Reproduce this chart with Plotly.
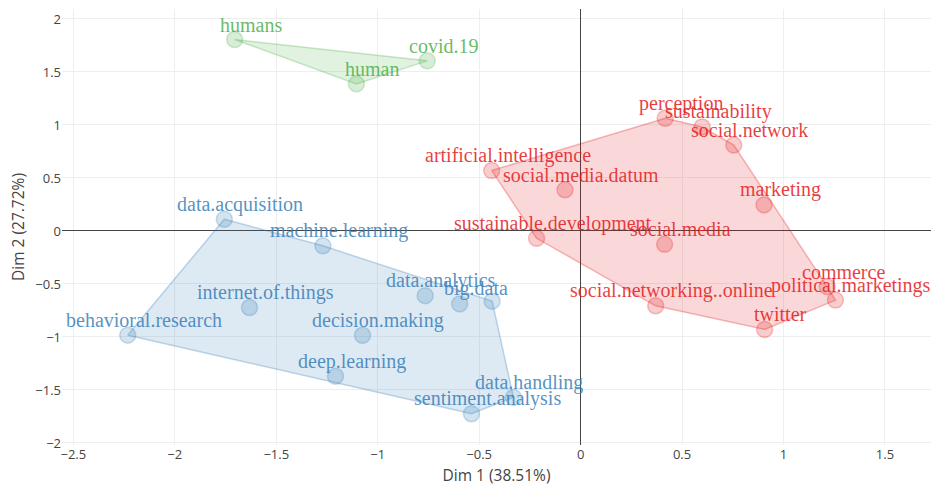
import plotly.graph_objects as go

# ---- data ----
green_labels = ["humans", "covid.19", "human"]
green_x = [-1.705, -0.756, -1.105]
green_y = [1.806, 1.605, 1.388]

red_labels = ["perception", "sustainability", "social.network", "artificial.intelligence",
              "social.media.datum", "marketing", "sustainable.development", "social.media",
              "social.networking..online", "twitter", "commerce", "political.marketings"]
red_x = [0.417, 0.599, 0.755, -0.438, -0.077, 0.904, -0.217, 0.414, 0.370, 0.907, 1.215, 1.256]
red_y = [1.063, 0.981, 0.810, 0.570, 0.388, 0.246, -0.069, -0.126, -0.706, -0.929, -0.525, -0.652]

blue_labels = ["data.acquisition", "machine.learning", "internet.of.things", "behavioral.research",
               "data.analytics", "big.data", "", "decision.making", "deep.learning",
               "data.handling", "sentiment.analysis"]
blue_x = [-1.756, -1.270, -1.632, -2.232, -0.766, -0.596, -0.436, -1.075, -1.208, -0.331, -0.538]
blue_y = [0.111, -0.140, -0.722, -0.983, -0.610, -0.688, -0.662, -0.984, -1.370, -1.570, -1.724]

x_title = "Dim 1 (38.51%)"
y_title = "Dim 2 (27.72%)"

clusters = [
    (green_labels, green_x, green_y, (77, 175, 74)),
    (red_labels, red_x, red_y, (228, 26, 28)),
    (blue_labels, blue_x, blue_y, (55, 126, 184)),
]


def convex_hull(pts):
    pts = sorted(set(pts))
    if len(pts) <= 2:
        return pts

    def cross(o, a, b):
        return (a[0] - o[0]) * (b[1] - o[1]) - (a[1] - o[1]) * (b[0] - o[0])

    lower = []
    for p in pts:
        while len(lower) >= 2 and cross(lower[-2], lower[-1], p) <= 0:
            lower.pop()
        lower.append(p)
    upper = []
    for p in reversed(pts):
        while len(upper) >= 2 and cross(upper[-2], upper[-1], p) <= 0:
            upper.pop()
        upper.append(p)
    return lower[:-1] + upper[:-1]


fig = go.Figure()
annotations = []
for labels, xs, ys, (r, g, b) in clusters:
    hull = convex_hull(list(zip(xs, ys)))
    hx = [p[0] for p in hull] + [hull[0][0]]
    hy = [p[1] for p in hull] + [hull[0][1]]
    fig.add_trace(go.Scatter(
        x=hx, y=hy, mode="lines", fill="toself",
        fillcolor=f"rgba({r},{g},{b},0.17)",
        line=dict(color=f"rgba({r},{g},{b},0.3)", width=1.5),
        hoverinfo="skip", showlegend=False))
    fig.add_trace(go.Scatter(
        x=xs, y=ys, mode="markers", text=labels,
        marker=dict(size=16, color=f"rgba({r},{g},{b},0.22)",
                    line=dict(color=f"rgba({r},{g},{b},0.25)", width=1.5)),
        showlegend=False))
    for lab, x, y in zip(labels, xs, ys):
        if not lab:
            continue
        annotations.append(dict(
            x=x, y=y, text=lab, showarrow=False, xanchor="center", yanchor="middle",
            xshift=16, yshift=15,
            font=dict(family="Liberation Serif, Times New Roman, serif", size=20,
                      color=f"rgba({r},{g},{b},0.85)")))

fig.update_layout(
    width=931, height=486,
    margin=dict(l=62, r=0, t=9, b=41),
    paper_bgcolor="white", plot_bgcolor="white",
    annotations=annotations,
    font=dict(family="Open Sans, sans-serif", color="#444"),
    xaxis=dict(range=[-2.556, 1.727], dtick=0.5, showgrid=True, gridcolor="#eeeeee",
               zeroline=True, zerolinecolor="#444", zerolinewidth=1,
               title=dict(text=x_title, font=dict(size=15.5), standoff=10),
               tickfont=dict(size=13)),
    yaxis=dict(range=[-2.019, 2.094], dtick=0.5, showgrid=True, gridcolor="#eeeeee",
               zeroline=True, zerolinecolor="#444", zerolinewidth=1,
               title=dict(text=y_title, font=dict(size=15.5), standoff=6),
               tickfont=dict(size=13)),
)

fig.write_html("out.html", config={"displayModeBar": False},
               post_script="document.body.style.margin='0';")
